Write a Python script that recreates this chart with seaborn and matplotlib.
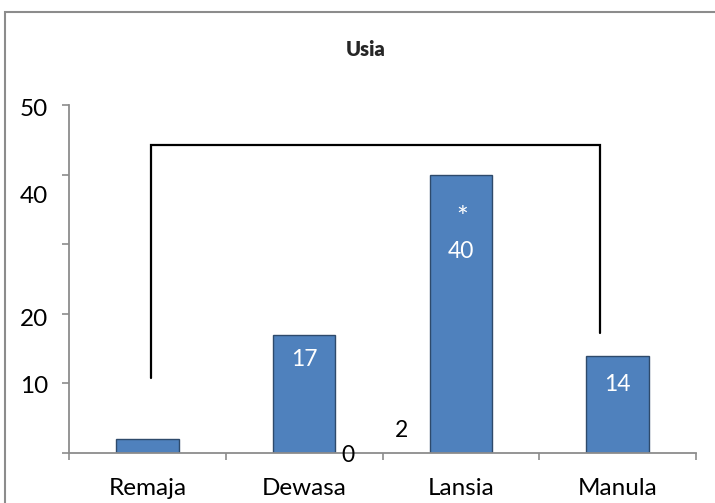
import matplotlib
matplotlib.use("Agg")
import matplotlib.pyplot as plt
from matplotlib.patches import Rectangle
import seaborn as sns
import pandas as pd

# ===== DATA =====
categories = ["Remaja", "Dewasa", "Lansia", "Manula"]
counts = [2, 17, 40, 14]
value_labels = ["2", "17", "40", "14"]
ytick_values = [0, 10, 20, 30, 40, 50]
ytick_labels = ["50", "40", "20", "10"]

df = pd.DataFrame({"Usia": categories, "Jumlah": counts})

sns.set_theme(style="white")
plt.rcParams["font.family"] = ["Lato", "DejaVu Sans"]

fig = plt.figure(figsize=(7.15, 5.03), dpi=100)
ax = fig.add_axes([69 / 715, 1 - 453 / 503, 627 / 715, 348 / 503])

sns.barplot(data=df, x="Usia", y="Jumlah", color="#4F81BD", width=0.4,
            edgecolor="#2E4A6B", linewidth=1.0, saturation=1, ax=ax)

ax.set_xlim(-0.5, 3.5)
ax.set_ylim(0, 50)
ax.set_xlabel("")
ax.set_ylabel("")

# axes style (excel-like)
for side in ["top", "right"]:
    ax.spines[side].set_visible(False)
for side in ["left", "bottom"]:
    ax.spines[side].set_color("#8C8C8C")
    ax.spines[side].set_linewidth(1.3)

ax.set_yticks(ytick_values)
ax.set_yticklabels([])
ax.tick_params(axis="y", direction="out", length=5, width=1.2, color="#8C8C8C", left=True)
ax.set_xticks(range(len(categories)))
ax.set_xticklabels(categories, fontsize=17.5, color="black")
ax.set_xticks([i - 0.5 for i in range(len(categories) + 1)], minor=True)
ax.tick_params(axis="x", which="major", length=0, pad=18)
ax.tick_params(axis="x", which="minor", direction="out", length=5, width=1.2,
               color="#8C8C8C", bottom=True)

# y labels sit a little off their ticks in the original
ylab_pos = [49.4, 36.8, 19.2, 9.5]
for lab, yp in zip(ytick_labels, ylab_pos):
    ax.annotate(lab, xy=(0, yp), xycoords=ax.get_yaxis_transform(),
                xytext=(-15, 0), textcoords="offset points",
                ha="right", va="center", fontsize=17.5, color="black")

# value labels
ax.text(1, 13.5, value_labels[1], ha="center", va="center", color="white", fontsize=16.5)
ax.text(2, 28.9, value_labels[2], ha="center", va="center", color="white", fontsize=16.5)
ax.text(2.01, 33.6, "*", ha="center", va="center", color="white", fontsize=20)
ax.text(3, 9.8, value_labels[3], ha="center", va="center", color="white", fontsize=16.5)
ax.text(1.62, 3.3, value_labels[0], ha="center", va="center", color="black", fontsize=16.5)
ax.text(1.28, -0.4, "0", ha="center", va="center", color="black", fontsize=16.5, clip_on=False)

# significance bracket
ax.plot([0.02, 0.02, 2.89, 2.89], [10.8, 44.3, 44.3, 17.2], color="black", lw=1.6,
        solid_joinstyle="miter")

fig.text(366 / 715, 1 - 50 / 503, "Usia", ha="center", va="center",
         fontsize=14.5, fontweight="heavy")

# chart area border
fig.patches.append(Rectangle((5 / 715, -0.1), 1.2, 1.1 - 12 / 503, transform=fig.transFigure,
                             fill=False, edgecolor="#8C8C8C", linewidth=1.5))

fig.savefig("out.png", dpi=100)
